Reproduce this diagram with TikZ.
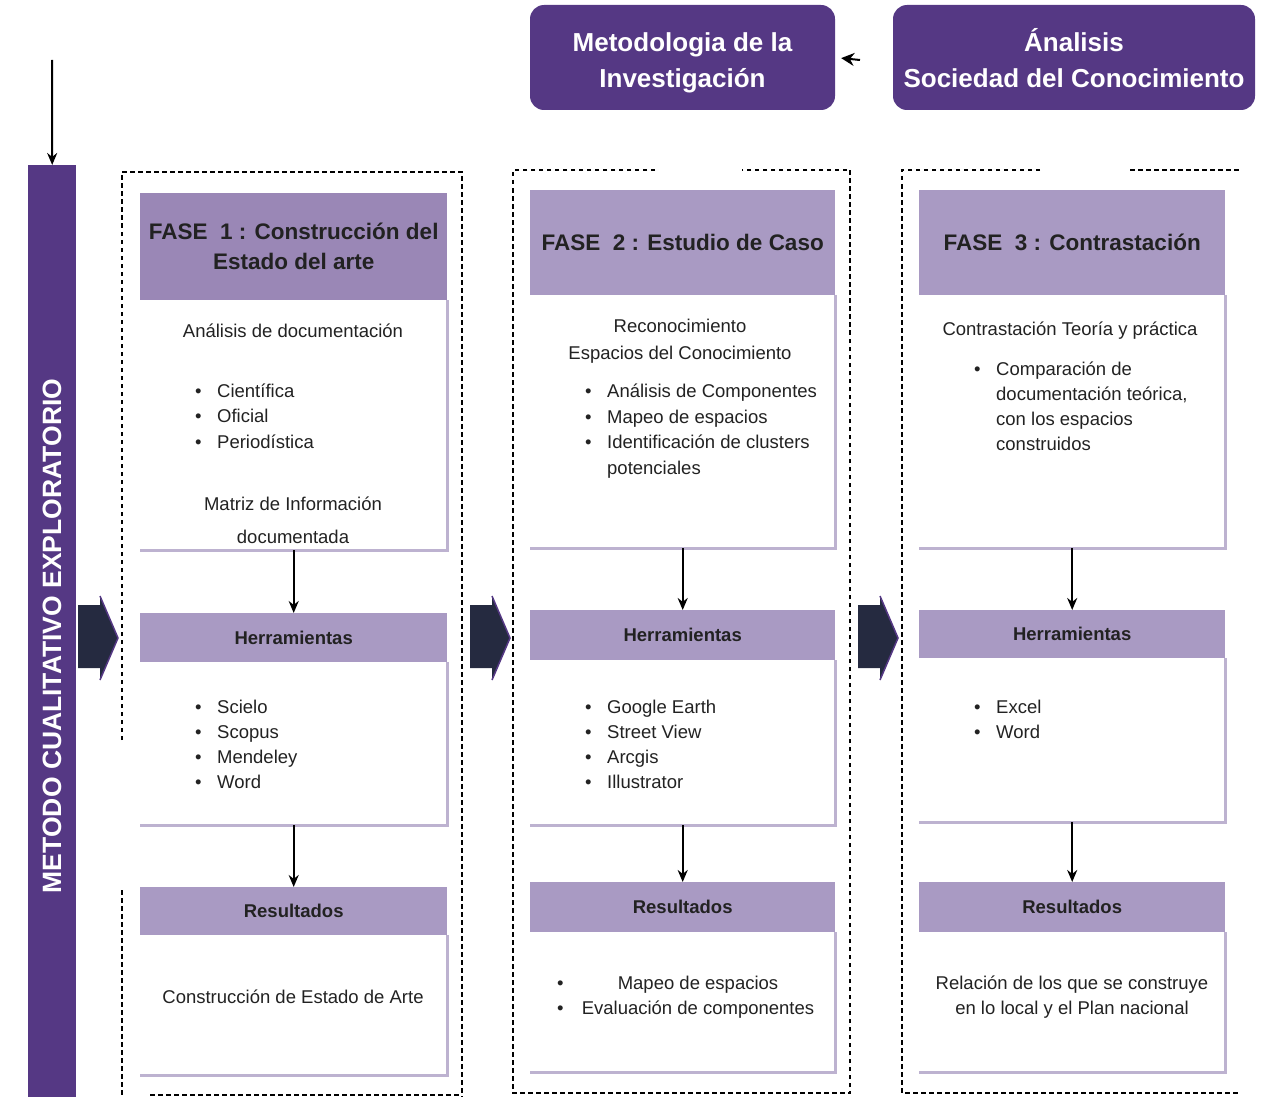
\documentclass[tikz,border=0pt]{standalone}
\usepackage{fontspec}
\setmainfont{Liberation Sans}
\usetikzlibrary{arrows.meta}
\definecolor{dpurple}{HTML}{553884}
\definecolor{hdrA}{HTML}{9A87B6}
\definecolor{hdrB}{HTML}{A99AC3}
\definecolor{chev}{HTML}{252A40}
\definecolor{edgec}{HTML}{BDB2D0}
\definecolor{txtc}{HTML}{222222}
\newcommand{\bul}{\makebox[22pt][l]{\textbullet}}
\begin{document}
\begin{tikzpicture}[x=1pt,y=-1pt,
  hdr/.style={anchor=north west, inner sep=2pt, align=center, text=txtc},
  fasehdr/.style={hdr, font=\bfseries\fontsize{22.5}{30}\selectfont},
  smallhdr/.style={hdr, fill=hdrB, font=\bfseries\fontsize{18.5}{22}\selectfont},
  bodybox/.style={anchor=north west, inner sep=0, fill=white},
  edgeline/.style={draw=edgec, line width=2.5pt},
  conn/.style={draw=black, line width=2pt, -{Stealth[length=12pt,width=10pt]}},
  txt/.style={inner sep=0, text=txtc, font=\fontsize{18.5}{22}\selectfont},
  ltxt/.style={txt, anchor=base west},
  ctxt/.style={txt, anchor=base},
  topbox/.style={fill=dpurple, rounded corners=14pt, inner sep=0},
  toptxt/.style={text=white, align=center, inner sep=0,
    font=\bfseries\fontsize{26}{36}\selectfont},
  dsh/.style={draw=black, line width=2.4pt, dash pattern=on 4.5pt off 3.5pt},
  chevsty/.style={fill=chev},
]
\useasboundingbox (0,0) rectangle (1267,1097);

% left bar
\node[fill=dpurple, anchor=north west, inner sep=0, minimum width=48pt, minimum height=932pt] (bar) at (28,165) {};
\node[rotate=90, text=white, inner sep=0, font=\bfseries\fontsize{26.5}{26}\selectfont] (bartxt) at (52,636) {METODO CUALITATIVO EXPLORATORIO};
\coordinate (barstart) at (52,60);
\draw[conn] (barstart) -- (bar.north);

% top boxes
\node[topbox, minimum width=305pt, minimum height=105pt] (met) at (682.5,57.5) {};
\node[toptxt] (mettxt) at (682.5,63) {Metodologia de la\\Investigación};
\node[topbox, minimum width=362pt, minimum height=105pt] (ana) at (1074,57.5) {};
\node[toptxt] (anatxt) at (1074,58) {Ánalisis\\Sociedad del Conocimiento};
\coordinate (anaw) at (860,60);
\draw[draw=black, line width=2pt, -{Stealth[length=13pt,width=13pt]}, shorten >=6pt] (anaw) -- (met.east);

% dashed frames
\draw[dsh] (122,740) -- (122,172) -- (462,172) -- (462,1097);
\draw[dsh] (122,890) -- (122,1097);
\draw[dsh] (150,1095) -- (462,1095);
\draw[dsh] (655,170) -- (513,170) -- (513,1093) -- (850,1093) -- (850,170) -- (742,170);
\draw[dsh] (1040,170) -- (902,170) -- (902,1093) -- (1240,1093);
\draw[dsh] (1130,170) -- (1240,170);

% chevrons
\foreach \cx in {78,470,858}{
  \fill[chevsty] (\cx,605) -- (\cx+22,605) -- (\cx+22,596) -- (\cx+40,638) -- (\cx+22,680) -- (\cx+22,668) -- (\cx,668) -- cycle;
  \draw[dpurple, line width=1.5pt] (\cx+22,596) -- (\cx+40,638) -- (\cx+22,680);
}

% ---------- column 1 ----------
\node[fasehdr, fill=hdrA, minimum width=307pt, minimum height=107pt] (f1) at (140,193) {FASE\ \ 1 : Construcción del\\Estado del arte};
\node[bodybox, minimum width=307pt, minimum height=250pt] (f1b) at (140,300) {};
\draw[edgeline] (f1b.north east) -- (f1b.south east) -- (f1b.south west);
\node[smallhdr, minimum width=307pt, minimum height=49pt] (t1) at (140,613) {Herramientas};
\node[bodybox, minimum width=307pt, minimum height=163pt] (t1b) at (140,662) {};
\draw[edgeline] (t1b.north east) -- (t1b.south east) -- (t1b.south west);
\node[smallhdr, minimum width=307pt, minimum height=48pt] (r1) at (140,887) {Resultados};
\node[bodybox, minimum width=307pt, minimum height=140pt] (r1b) at (140,935) {};
\draw[edgeline] (r1b.north east) -- (r1b.south east) -- (r1b.south west);
\draw[conn] (f1b.south) -- (t1.north);
\draw[conn] (t1b.south) -- (r1.north);

\node[ctxt] (a1) at (293,337) {Análisis de documentación};
\node[ltxt] (a2) at (195,397) {\bul Científica};
\node[ltxt] (a3) at (195,422) {\bul Oficial};
\node[ltxt] (a4) at (195,448) {\bul Periodística};
\node[ctxt] (a5) at (293,510) {Matriz de Información};
\node[ctxt] (a6) at (293,543) {documentada};
\node[ltxt] (a7) at (195,713) {\bul Scielo};
\node[ltxt] (a8) at (195,738) {\bul Scopus};
\node[ltxt] (a9) at (195,763) {\bul Mendeley};
\node[ltxt] (a10) at (195,788) {\bul Word};
\node[ctxt] (a11) at (293,1003) {Construcción de Estado de Arte};

% ---------- column 2 ----------
\node[fasehdr, fill=hdrB, minimum width=305pt, minimum height=105pt] (f2) at (530,190) {FASE\ \ 2 : Estudio de Caso};
\node[bodybox, minimum width=305pt, minimum height=253pt] (f2b) at (530,295) {};
\draw[edgeline] (f2b.north east) -- (f2b.south east) -- (f2b.south west);
\node[smallhdr, minimum width=305pt, minimum height=50pt] (t2) at (530,610) {Herramientas};
\node[bodybox, minimum width=305pt, minimum height=165pt] (t2b) at (530,660) {};
\draw[edgeline] (t2b.north east) -- (t2b.south east) -- (t2b.south west);
\node[smallhdr, minimum width=305pt, minimum height=50pt] (r2) at (530,882) {Resultados};
\node[bodybox, minimum width=305pt, minimum height=140pt] (r2b) at (530,932) {};
\draw[edgeline] (r2b.north east) -- (r2b.south east) -- (r2b.south west);
\draw[conn] (f2b.south) -- (t2.north);
\draw[conn] (t2b.south) -- (r2.north);

\node[ctxt] (b1) at (680,332) {Reconocimiento};
\node[ctxt] (b2) at (680,359) {Espacios del Conocimiento};
\node[ltxt] (b3) at (585,397) {\bul Análisis de Componentes};
\node[ltxt] (b4) at (585,423) {\bul Mapeo de espacios};
\node[ltxt] (b5) at (585,448) {\bul Identificación de clusters};
\node[ltxt] (b6) at (607,474) {potenciales};
\node[ltxt] (b7) at (585,713) {\bul Google Earth};
\node[ltxt] (b8) at (585,738) {\bul Street View};
\node[ltxt] (b9) at (585,763) {\bul Arcgis};
\node[ltxt] (b10) at (585,788) {\bul Illustrator};
\node[ltxt] (b11) at (557,989) {\textbullet};
\node[ctxt] (b12) at (698,989) {Mapeo de espacios};
\node[ltxt] (b13) at (557,1014) {\textbullet};
\node[ctxt] (b14) at (698,1014) {Evaluación de componentes};

% ---------- column 3 ----------
\node[fasehdr, fill=hdrB, minimum width=306pt, minimum height=105pt] (f3) at (919,190) {FASE\ \ 3 : Contrastación};
\node[bodybox, minimum width=306pt, minimum height=253pt] (f3b) at (919,295) {};
\draw[edgeline] (f3b.north east) -- (f3b.south east) -- (f3b.south west);
\node[smallhdr, minimum width=306pt, minimum height=48pt] (t3) at (919,610) {Herramientas};
\node[bodybox, minimum width=306pt, minimum height=164pt] (t3b) at (919,658) {};
\draw[edgeline] (t3b.north east) -- (t3b.south east) -- (t3b.south west);
\node[smallhdr, minimum width=306pt, minimum height=50pt] (r3) at (919,882) {Resultados};
\node[bodybox, minimum width=306pt, minimum height=140pt] (r3b) at (919,932) {};
\draw[edgeline] (r3b.north east) -- (r3b.south east) -- (r3b.south west);
\draw[conn] (f3b.south) -- (t3.north);
\draw[conn] (t3b.south) -- (r3.north);

\node[ctxt] (c1) at (1070,335) {Contrastación Teoría y práctica};
\node[ltxt] (c2) at (974,375) {\bul Comparación de};
\node[ltxt] (c3) at (996,400) {documentación teórica,};
\node[ltxt] (c4) at (996,425) {con los espacios};
\node[ltxt] (c5) at (996,450) {construidos};
\node[ltxt] (c6) at (974,713) {\bul Excel};
\node[ltxt] (c7) at (974,738) {\bul Word};
\node[ctxt] (c8) at (1072,989) {Relación de los que se construye};
\node[ctxt] (c9) at (1072,1014) {en lo local y el Plan nacional};
\end{tikzpicture}
\end{document}
